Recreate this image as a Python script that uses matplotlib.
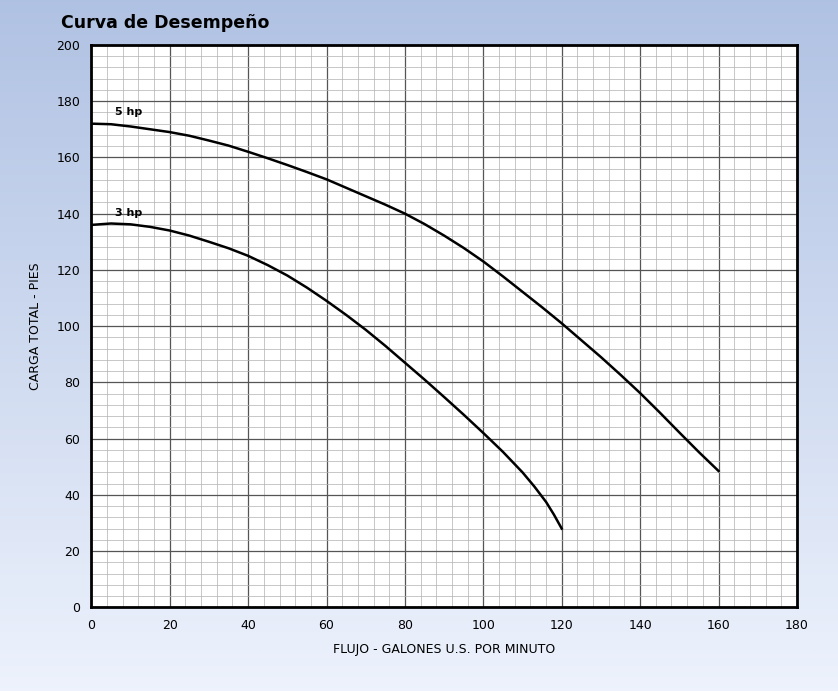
import numpy as np
import matplotlib.pyplot as plt

# valores
flujo_5hp = [0, 5, 10, 15, 20, 25, 30, 35, 40, 45, 50, 55, 60, 65, 70, 75, 80, 85, 90, 95,
             100, 105, 110, 115, 120, 125, 130, 135, 140, 145, 150, 155, 160]
carga_5hp = [172, 171.8, 171, 170, 169, 167.7, 166, 164.2, 162, 159.7, 157.3, 154.8, 152.2,
             149.2, 146.2, 143.2, 140, 136.3, 132.2, 127.8, 123, 117.7, 112.2, 106.7, 101,
             95, 89, 82.7, 76.2, 69.3, 62.2, 55.2, 48.5]
flujo_3hp = [0, 5, 10, 15, 20, 25, 30, 35, 40, 45, 50, 55, 60, 65, 70, 75, 80, 85, 90, 95,
             100, 105, 110, 113, 116, 118, 120]
carga_3hp = [136, 136.5, 136.2, 135.3, 134, 132.2, 130, 127.7, 125, 121.7, 118, 113.7, 109,
             104, 98.7, 93, 87, 81, 74.8, 68.5, 62, 55.3, 48, 43, 37.5, 33, 28]

fig = plt.figure(figsize=(8.38, 6.91), dpi=100)

# fondo degradado azul
bg = fig.add_axes([0, 0, 1, 1], zorder=-10)
grad = np.linspace(0, 1, 256).reshape(-1, 1)
top = np.array([0.69, 0.76, 0.89])
bot = np.array([0.93, 0.95, 0.99])
img = top + (bot - top) * grad[..., None]
bg.imshow(img, aspect='auto', extent=[0, 1, 0, 1])
bg.axis('off')

fig.text(0.073, 0.98, 'Curva de Desempeño', fontsize=12.5, fontweight='heavy',
         color='black', va='top', ha='left')

ax = fig.add_axes([0.109, 0.121, 0.842, 0.814])
ax.set_facecolor('white')
ax.plot(flujo_5hp, carga_5hp, color='black', lw=1.8)
ax.plot(flujo_3hp, carga_3hp, color='black', lw=1.8)
ax.text(6, 175, '5 hp', fontsize=8, fontweight='bold')
ax.text(6, 139, '3 hp', fontsize=8, fontweight='bold')

ax.set_xlim(0, 180)
ax.set_ylim(0, 200)
ax.set_xticks(range(0, 181, 20))
ax.set_yticks(range(0, 201, 20))
ax.set_xticks(range(0, 181, 4), minor=True)
ax.set_yticks(range(0, 201, 4), minor=True)
ax.grid(which='major', color='#555555', lw=0.9)
ax.grid(which='minor', color='#b0b0b0', lw=0.5)
ax.tick_params(which='both', length=0, labelsize=9, pad=8)
for s in ax.spines.values():
    s.set_linewidth(2)
ax.set_xlabel('FLUJO - GALONES U.S. POR MINUTO', fontsize=9, labelpad=8)
ax.set_ylabel('CARGA TOTAL - PIES', fontsize=9, labelpad=10)

fig.savefig('out.png', dpi=100)
